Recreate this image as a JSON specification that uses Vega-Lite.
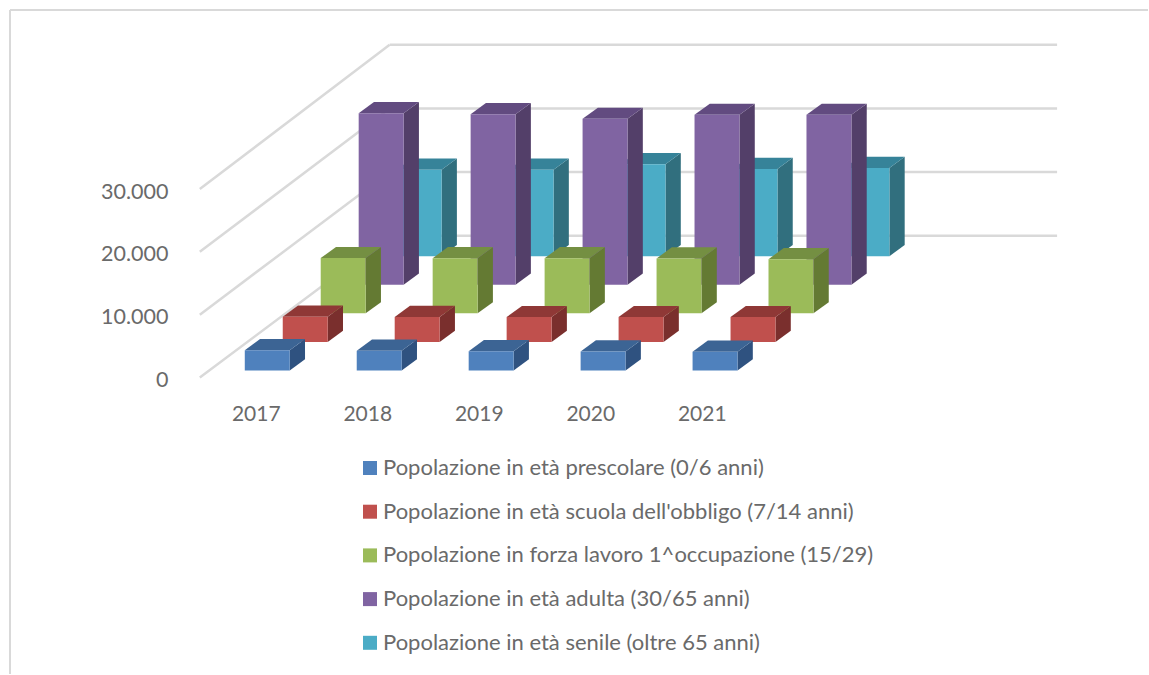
{"$schema":"https://vega.github.io/schema/vega-lite/v6.json","width":1149,"height":675,"padding":0,"autosize":{"type":"fit","contains":"padding"},"background":"white","config":{"view":{"stroke":null},"font":"Lato"},
"resolve":{"axis":{"x":"independent","y":"independent"}},
"datasets":{"griglia":[{"valore":0},{"valore":10000},{"valore":20000},{"valore":30000}],
"righe":[
{"anno":2017,"serie":"Popolazione in età prescolare (0/6 anni)","valore":3230},{"anno":2018,"serie":"Popolazione in età prescolare (0/6 anni)","valore":3130},{"anno":2019,"serie":"Popolazione in età prescolare (0/6 anni)","valore":3070},{"anno":2020,"serie":"Popolazione in età prescolare (0/6 anni)","valore":3020},{"anno":2021,"serie":"Popolazione in età prescolare (0/6 anni)","valore":2970},
{"anno":2017,"serie":"Popolazione in età scuola dell'obbligo (7/14 anni)","valore":4020},{"anno":2018,"serie":"Popolazione in età scuola dell'obbligo (7/14 anni)","valore":3980},{"anno":2019,"serie":"Popolazione in età scuola dell'obbligo (7/14 anni)","valore":3950},{"anno":2020,"serie":"Popolazione in età scuola dell'obbligo (7/14 anni)","valore":3950},{"anno":2021,"serie":"Popolazione in età scuola dell'obbligo (7/14 anni)","valore":3950},
{"anno":2017,"serie":"Popolazione in forza lavoro 1^occupazione (15/29)","valore":8790},{"anno":2018,"serie":"Popolazione in forza lavoro 1^occupazione (15/29)","valore":8780},{"anno":2019,"serie":"Popolazione in forza lavoro 1^occupazione (15/29)","valore":8770},{"anno":2020,"serie":"Popolazione in forza lavoro 1^occupazione (15/29)","valore":8740},{"anno":2021,"serie":"Popolazione in forza lavoro 1^occupazione (15/29)","valore":8630},
{"anno":2017,"serie":"Popolazione in età adulta (30/65 anni)","valore":27310},{"anno":2018,"serie":"Popolazione in età adulta (30/65 anni)","valore":27150},{"anno":2019,"serie":"Popolazione in età adulta (30/65 anni)","valore":26420},{"anno":2020,"serie":"Popolazione in età adulta (30/65 anni)","valore":27060},{"anno":2021,"serie":"Popolazione in età adulta (30/65 anni)","valore":27060},
{"anno":2017,"serie":"Popolazione in età senile (oltre 65 anni)","valore":13780},{"anno":2018,"serie":"Popolazione in età senile (oltre 65 anni)","valore":13780},{"anno":2019,"serie":"Popolazione in età senile (oltre 65 anni)","valore":14660},{"anno":2020,"serie":"Popolazione in età senile (oltre 65 anni)","valore":13900},{"anno":2021,"serie":"Popolazione in età senile (oltre 65 anni)","valore":14050}
]},
"layer":[
{"data":{"name":"griglia"},"transform":[{"calculate":"datum.valore*1.0127+22576","as":"dietro"},{"calculate":"2016.4982","as":"xa"},{"calculate":"2018.2007","as":"xb"}],"mark":{"type":"rule","color":"#d9d9d9","strokeWidth":2.5},"encoding":{
"x":{"field":"xa","type":"quantitative","scale":{"domain":[2014.7061,2025.0018],"nice":false,"zero":false},"axis":{"orient":"bottom","offset":-271,"values":[2017,2018,2019,2020,2021],"format":"d","title":null,"grid":false,"domain":false,"ticks":false,"labelPadding":0,"labelFont":"Lato","labelFontSize":21,"labelColor":"#6a6a6a","labelBaseline":"top","labelOverlap":false}},
"x2":{"field":"xb"},
"y":{"field":"valore","type":"quantitative","scale":{"domain":[-47218,60095],"nice":false,"zero":false},"axis":{"orient":"left","offset":-168,"values":[0,10000,20000,30000],"labelExpr":"replace(format(datum.value,','),',','.')","title":null,"grid":false,"domain":false,"ticks":false,"labelPadding":0,"labelOffset":3,"labelFont":"Lato","labelFontSize":21.5,"labelColor":"#6a6a6a"}},
"y2":{"field":"dietro"}}},
{"data":{"name":"griglia"},"transform":[{"calculate":"datum.valore*1.0127+22576","as":"dietro"},{"calculate":"2018.2007","as":"xb"},{"calculate":"2024.1864","as":"xc"}],"mark":{"type":"rule","color":"#d9d9d9","strokeWidth":2.5},"encoding":{
"x":{"field":"xb","type":"quantitative","scale":{"domain":[2014.7061,2025.0018],"nice":false,"zero":false},"axis":null},"x2":{"field":"xc"},
"y":{"field":"dietro","type":"quantitative","scale":{"domain":[-47218,60095],"nice":false,"zero":false},"axis":null}}},
{"data":{"values":[{}]},"mark":{"type":"rule","color":"#d9d9d9","strokeWidth":2},"encoding":{"x":{"datum":2014.7957,"type":"quantitative","scale":{"domain":[2014.7061,2025.0018],"nice":false,"zero":false},"axis":null},"x2":{"datum":2025.0018},"y":{"datum":58506,"type":"quantitative","scale":{"domain":[-47218,60095],"nice":false,"zero":false},"axis":null}}},
{"data":{"values":[{}]},"mark":{"type":"rule","color":"#d9d9d9","strokeWidth":2},"encoding":{"x":{"datum":2014.7957,"type":"quantitative","scale":{"domain":[2014.7061,2025.0018],"nice":false,"zero":false},"axis":null},"y":{"datum":58506,"type":"quantitative","scale":{"domain":[-47218,60095],"nice":false,"zero":false},"axis":null},"y2":{"datum":-47218}}},
{"data":{"name":"righe"},"transform":[
{"calculate":"indexof(['Popolazione in età prescolare (0/6 anni)','Popolazione in età scuola dell\\'obbligo (7/14 anni)','Popolazione in forza lavoro 1^occupazione (15/29)','Popolazione in età adulta (30/65 anni)','Popolazione in età senile (oltre 65 anni)'],datum.serie)","as":"i"},
{"calculate":"datum.anno+(datum.anno-2017)*0.004-0.0986+datum.i*0.3405","as":"xl"},{"calculate":"datum.xl+0.4032","as":"xr"},{"calculate":"1113+datum.i*4547","as":"base"},{"calculate":"datum.base+datum.valore","as":"cima"},
{"calculate":"[0,1]","as":"k"},{"flatten":["k"]},
{"calculate":"datum.xl+datum.k*0.1371","as":"xtl"},{"calculate":"datum.xr+datum.k*0.1371","as":"xtr"},{"calculate":"datum.base+datum.k*1780","as":"ybot"},{"calculate":"datum.cima+datum.k*1780","as":"ytop"}],
"layer":[
{"transform":[{"filter":"datum.i===4"}],"layer":[
{"mark":{"type":"area","orient":"vertical","color":"#316f7e"},"encoding":{"detail":{"field":"anno"},"x":{"field":"xtr","type":"quantitative","scale":{"domain":[2014.7061,2025.0018],"nice":false,"zero":false},"axis":null},"y":{"field":"ytop","type":"quantitative","stack":null,"scale":{"domain":[-47218,60095],"nice":false,"zero":false},"axis":null},"y2":{"field":"ybot"}}},
{"mark":{"type":"area","orient":"horizontal","color":"#368399"},"encoding":{"detail":{"field":"anno"},"y":{"field":"ytop","type":"quantitative","stack":null,"scale":{"domain":[-47218,60095],"nice":false,"zero":false},"axis":null},"x":{"field":"xtl","type":"quantitative","scale":{"domain":[2014.7061,2025.0018],"nice":false,"zero":false},"axis":null},"x2":{"field":"xtr"}}},
{"transform":[{"filter":"datum.k===0"}],"mark":{"type":"rect"},"encoding":{"color":{"field":"serie","type":"nominal","scale":{"domain":["Popolazione in età prescolare (0/6 anni)","Popolazione in età scuola dell'obbligo (7/14 anni)","Popolazione in forza lavoro 1^occupazione (15/29)","Popolazione in età adulta (30/65 anni)","Popolazione in età senile (oltre 65 anni)"],"range":["#4f81bd","#c0504d","#9bbb59","#8064a2","#4bacc6"]},"legend":{"orient":"none","legendX":359,"legendY":457,"title":null,"symbolType":"square","symbolSize":196,"symbolStrokeWidth":0,"labelFont":"Lato","labelFontSize":22,"labelColor":"#6a6a6a","labelLimit":600,"rowPadding":21.7,"labelOffset":2}},"x":{"field":"xl","type":"quantitative","scale":{"domain":[2014.7061,2025.0018],"nice":false,"zero":false},"axis":null},"x2":{"field":"xr"},"y":{"field":"cima","type":"quantitative","scale":{"domain":[-47218,60095],"nice":false,"zero":false},"axis":null},"y2":{"field":"base"}}}
]},
{"transform":[{"filter":"datum.i===3"}],"layer":[
{"mark":{"type":"area","orient":"vertical","color":"#533f69"},"encoding":{"detail":{"field":"anno"},"x":{"field":"xtr","type":"quantitative","scale":{"domain":[2014.7061,2025.0018],"nice":false,"zero":false},"axis":null},"y":{"field":"ytop","type":"quantitative","stack":null,"scale":{"domain":[-47218,60095],"nice":false,"zero":false},"axis":null},"y2":{"field":"ybot"}}},
{"mark":{"type":"area","orient":"horizontal","color":"#624b80"},"encoding":{"detail":{"field":"anno"},"y":{"field":"ytop","type":"quantitative","stack":null,"scale":{"domain":[-47218,60095],"nice":false,"zero":false},"axis":null},"x":{"field":"xtl","type":"quantitative","scale":{"domain":[2014.7061,2025.0018],"nice":false,"zero":false},"axis":null},"x2":{"field":"xtr"}}},
{"transform":[{"filter":"datum.k===0"}],"mark":{"type":"rect"},"encoding":{"color":{"field":"serie","type":"nominal"},"x":{"field":"xl","type":"quantitative","scale":{"domain":[2014.7061,2025.0018],"nice":false,"zero":false},"axis":null},"x2":{"field":"xr"},"y":{"field":"cima","type":"quantitative","scale":{"domain":[-47218,60095],"nice":false,"zero":false},"axis":null},"y2":{"field":"base"}}}
]},
{"transform":[{"filter":"datum.i===2"}],"layer":[
{"mark":{"type":"area","orient":"vertical","color":"#647a33"},"encoding":{"detail":{"field":"anno"},"x":{"field":"xtr","type":"quantitative","scale":{"domain":[2014.7061,2025.0018],"nice":false,"zero":false},"axis":null},"y":{"field":"ytop","type":"quantitative","stack":null,"scale":{"domain":[-47218,60095],"nice":false,"zero":false},"axis":null},"y2":{"field":"ybot"}}},
{"mark":{"type":"area","orient":"horizontal","color":"#748f42"},"encoding":{"detail":{"field":"anno"},"y":{"field":"ytop","type":"quantitative","stack":null,"scale":{"domain":[-47218,60095],"nice":false,"zero":false},"axis":null},"x":{"field":"xtl","type":"quantitative","scale":{"domain":[2014.7061,2025.0018],"nice":false,"zero":false},"axis":null},"x2":{"field":"xtr"}}},
{"transform":[{"filter":"datum.k===0"}],"mark":{"type":"rect"},"encoding":{"color":{"field":"serie","type":"nominal"},"x":{"field":"xl","type":"quantitative","scale":{"domain":[2014.7061,2025.0018],"nice":false,"zero":false},"axis":null},"x2":{"field":"xr"},"y":{"field":"cima","type":"quantitative","scale":{"domain":[-47218,60095],"nice":false,"zero":false},"axis":null},"y2":{"field":"base"}}}
]},
{"transform":[{"filter":"datum.i===1"}],"layer":[
{"mark":{"type":"area","orient":"vertical","color":"#7a2f2d"},"encoding":{"detail":{"field":"anno"},"x":{"field":"xtr","type":"quantitative","scale":{"domain":[2014.7061,2025.0018],"nice":false,"zero":false},"axis":null},"y":{"field":"ytop","type":"quantitative","stack":null,"scale":{"domain":[-47218,60095],"nice":false,"zero":false},"axis":null},"y2":{"field":"ybot"}}},
{"mark":{"type":"area","orient":"horizontal","color":"#8f3836"},"encoding":{"detail":{"field":"anno"},"y":{"field":"ytop","type":"quantitative","stack":null,"scale":{"domain":[-47218,60095],"nice":false,"zero":false},"axis":null},"x":{"field":"xtl","type":"quantitative","scale":{"domain":[2014.7061,2025.0018],"nice":false,"zero":false},"axis":null},"x2":{"field":"xtr"}}},
{"transform":[{"filter":"datum.k===0"}],"mark":{"type":"rect"},"encoding":{"color":{"field":"serie","type":"nominal"},"x":{"field":"xl","type":"quantitative","scale":{"domain":[2014.7061,2025.0018],"nice":false,"zero":false},"axis":null},"x2":{"field":"xr"},"y":{"field":"cima","type":"quantitative","scale":{"domain":[-47218,60095],"nice":false,"zero":false},"axis":null},"y2":{"field":"base"}}}
]},
{"transform":[{"filter":"datum.i===0"}],"layer":[
{"mark":{"type":"area","orient":"vertical","color":"#2f5280"},"encoding":{"detail":{"field":"anno"},"x":{"field":"xtr","type":"quantitative","scale":{"domain":[2014.7061,2025.0018],"nice":false,"zero":false},"axis":null},"y":{"field":"ytop","type":"quantitative","stack":null,"scale":{"domain":[-47218,60095],"nice":false,"zero":false},"axis":null},"y2":{"field":"ybot"}}},
{"mark":{"type":"area","orient":"horizontal","color":"#3c6494"},"encoding":{"detail":{"field":"anno"},"y":{"field":"ytop","type":"quantitative","stack":null,"scale":{"domain":[-47218,60095],"nice":false,"zero":false},"axis":null},"x":{"field":"xtl","type":"quantitative","scale":{"domain":[2014.7061,2025.0018],"nice":false,"zero":false},"axis":null},"x2":{"field":"xtr"}}},
{"transform":[{"filter":"datum.k===0"}],"mark":{"type":"rect"},"encoding":{"color":{"field":"serie","type":"nominal"},"x":{"field":"xl","type":"quantitative","scale":{"domain":[2014.7061,2025.0018],"nice":false,"zero":false},"axis":null},"x2":{"field":"xr"},"y":{"field":"cima","type":"quantitative","scale":{"domain":[-47218,60095],"nice":false,"zero":false},"axis":null},"y2":{"field":"base"}}}
]}
]}
]}
